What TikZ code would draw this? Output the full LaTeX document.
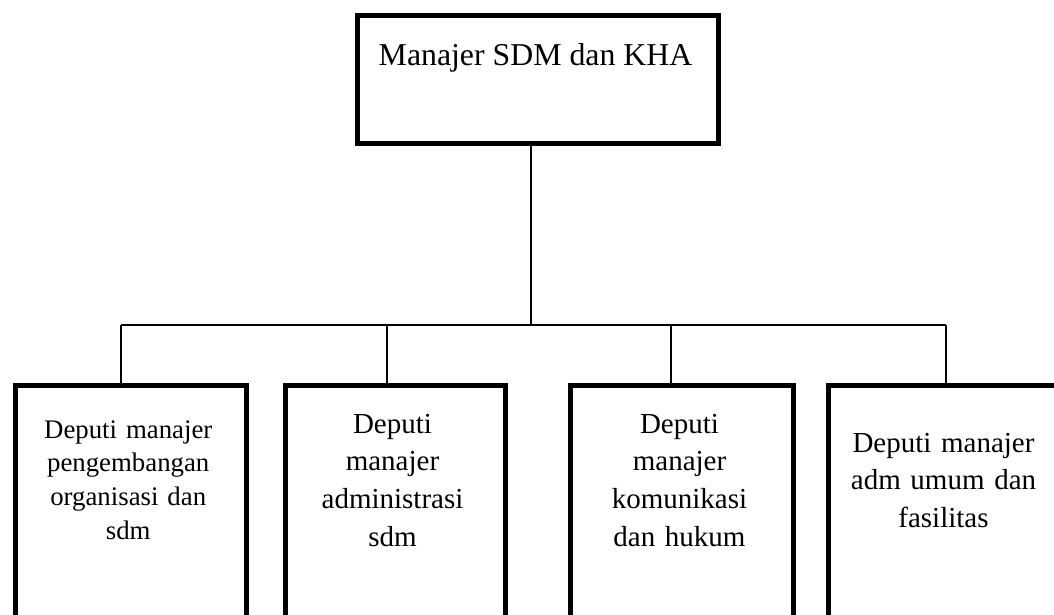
\documentclass[tikz,border=0pt]{standalone}
\usepackage{fontspec}
\setmainfont{Liberation Serif}
\begin{document}
\begin{tikzpicture}[x=1pt,y=-1pt,
  box/.style={draw, line width=5pt, rectangle, inner sep=0pt, line join=miter},
  conn/.style={line width=1.5pt},
  lbl/.style={inner sep=0pt, anchor=base, align=center, text width=230pt},
  smallfont/.style={font=\fontsize{26.8}{33.7}\selectfont},
  bigfont/.style={font=\fontsize{29}{37.8}\selectfont}]
\useasboundingbox (0,0) rectangle (1054,614);
\clip (0,0) rectangle (1054,614);
% top box
\node[box, minimum width=361.5pt, minimum height=128.5pt, anchor=north west] (top) at (354.5,12.5) {};
\node[inner sep=0pt, anchor=base, font=\fontsize{31.8}{38}\selectfont] (ttop) at (535.5,65) {Manajer SDM dan KHA};
% lower boxes
\node[box, minimum width=231.5pt, minimum height=320pt, anchor=north west] (b1) at (12.5,382.5) {};
\node[box, minimum width=220pt, minimum height=320pt, anchor=north west] (b2) at (282.5,382.5) {};
\node[box, minimum width=223pt, minimum height=320pt, anchor=north west] (b3) at (568,382.5) {};
\node[box, minimum width=235pt, minimum height=320pt, anchor=north west] (b4) at (826,382.5) {};
% texts
\node[lbl, smallfont] (t1) at (128.25,438) {Deputi manajer\\pengembangan\\organisasi dan\\sdm};
\node[lbl, bigfont] (t2) at (392.5,433) {Deputi\\manajer\\administrasi\\sdm};
\node[lbl, bigfont] (t3) at (679.5,433) {Deputi\\manajer\\komunikasi\\dan hukum};
\node[lbl, bigfont, font=\fontsize{29}{37.5}\selectfont] (t4) at (943.5,452) {Deputi manajer\\adm umum dan\\fasilitas};
% connectors
\coordinate (j) at (531,325);
\coordinate (c1) at (121,325);
\coordinate (c2) at (387,325);
\coordinate (c3) at (671,325);
\coordinate (c4) at (946,325);
\draw[conn] (top.south -| j) -- (j);
\draw[conn] (c1) -- (c4);
\draw[conn] (c1) -- (b1.north -| c1);
\draw[conn] (c2) -- (b2.north -| c2);
\draw[conn] (c3) -- (b3.north -| c3);
\draw[conn] (c4) -- (b4.north -| c4);
\end{tikzpicture}
\end{document}
